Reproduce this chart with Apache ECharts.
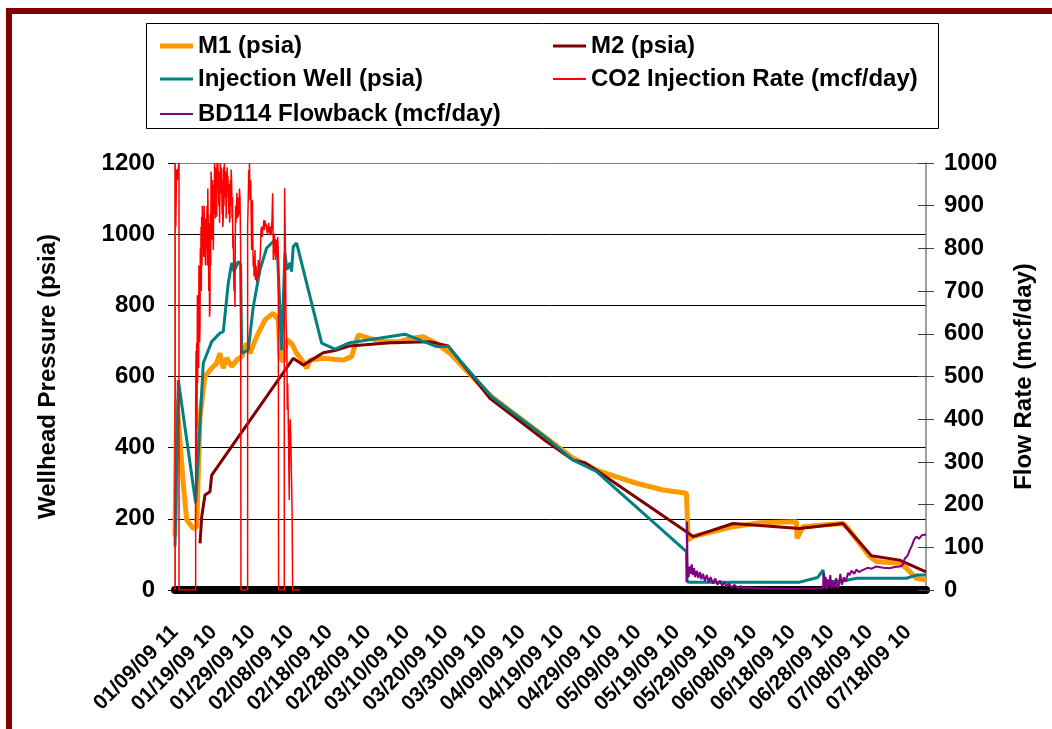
<!DOCTYPE html>
<html>
<head>
<meta charset="utf-8">
<title>Wellhead Pressure and Flow Rate</title>
<script src="https://cdn.jsdelivr.net/npm/echarts@6/dist/echarts.min.js"></script>
<style>
  html, body { margin: 0; padding: 0; background: #ffffff; }
  #chart { width: 1052px; height: 729px; }
</style>
</head>
<body>
<div id="chart"></div>
<script>
// Tick labels along the date axis (every 10 days from 01/09/09 11:00)
const xLabels = [
  '01/09/09 11', '01/19/09 10', '01/29/09 10', '02/08/09 10', '02/18/09 10',
  '02/28/09 10', '03/10/09 10', '03/20/09 10', '03/30/09 10', '04/09/09 10',
  '04/19/09 10', '04/29/09 10', '05/09/09 10', '05/19/09 10', '05/29/09 10',
  '06/08/09 10', '06/18/09 10', '06/28/09 10', '07/08/09 10', '07/18/09 10'
];
const dayMax = 194.6;

// [days since 01/09/09 11:00, psia]
const m1Psia = [
  [0,150],[0.44,534],[2.15,300],[3.03,197],[4.74,173],[5.62,178],[6.48,487],[7.77,600],
  [9.06,618],[10.8,637],[11.65,665],[12.51,623],[13.39,652],[14.69,628],[15.98,646],
  [17.28,656],[18.57,693],[19.43,665],[21.16,712],[23.31,759],[25.46,778],[26.75,759],
  [27.2,656],[28.05,642],[28.93,703],[30.22,693],[31.52,665],[33.23,642],[34.11,623],
  [34.97,646],[38.41,651],[43.59,646],[45.77,656],[47.48,717],[50.5,707],[53.95,698],
  [58.28,698],[60.87,707],[64.31,712],[67.78,693],[71.23,665],[82.03,543],[103.16,370],
  [109.22,337],[114.4,318],[119.58,300],[126.47,281],[132.53,272],[132.95,141],
  [134.24,150],[144.6,178],[151.51,189],[161.02,192],[161.2,145],[161.6,148],[162.73,178],
  [167.91,183],[173.09,187],[174.39,173],[180.0,94],[181.73,80],[187.77,75],[189.5,61],
  [192.1,33],[194.6,28]
];

const m2Psia = [
  [6.48,131],[6.92,206],[7.77,267],[9.06,276],[9.51,323],[30.64,651],[33.23,632],
  [38.41,667],[41.44,673],[45.32,686],[55.69,695],[66.05,698],[70.79,686],[81.59,539],
  [96.27,417],[103.16,365],[106.19,358],[109.64,333],[132.53,164],[134.24,150],
  [144.6,187],[161.87,173],[173.09,187],[180.44,96],[187.77,84],[194.6,51]
];

const injectionPsia = [
  [0,122],[0.85,590],[5.36,244],[7.33,638],[9.51,698],[11.65,722],[12.51,726],[13.8,862],
  [14.69,919],[15.3,895],[16.39,923],[17.0,915],[17.28,666],[18.98,674],[20.28,796],
  [22.01,899],[23.75,961],[25.9,984],[26.5,960],[27.64,674],[28.49,947],[29.0,900],
  [29.79,919],[30.2,895],[30.64,965],[31.52,975],[38.0,694],[41.44,677],[45.32,695],
  [59.57,719],[67.78,684],[70.79,684],[82.03,543],[95.83,431],[103.16,365],[109.22,333],
  [132.53,108],[132.69,23],[133.5,22],[161.87,22],[166.5,35],[167.91,56],[168.35,23],
  [173.09,25],[176.56,33],[189.5,33],[192.1,42],[194.6,42]
];

// [days, mcf/day]
const co2Rate = [
  [0,0],[0,1000],[0.2,850],[0.4,985],[0.6,960],[0.85,990],[1.04,1000],[1.04,0],
  [5.35,0],[5.35,420],[5.45,560],[5.55,300],[5.61,578],[5.7,380],[5.8,690],[5.87,484],
  [5.95,620],[6.04,671],[6.12,520],[6.2,760],[6.3,695],[6.4,580],[6.48,617],[6.56,800],
  [6.65,710],[6.75,850],[6.83,700],[6.91,874],[7.0,760],[7.08,900],[7.17,812],[7.25,880],
  [7.34,851],[7.45,780],[7.55,900],[7.65,820],[7.77,835],[7.9,760],[8.0,870],[8.1,800],
  [8.2,796],[8.3,900],[8.4,760],[8.5,940],[8.63,851],[8.75,700],[8.85,860],[8.95,640],
  [9.06,656],[9.15,880],[9.25,760],[9.35,980],[9.5,921],[9.6,820],[9.7,960],[9.8,850],
  [9.93,796],[10.05,950],[10.15,880],[10.25,1000],[10.36,1000],[10.45,870],[10.55,990],
  [10.65,900],[10.79,874],[10.9,1000],[11.0,940],[11.1,1000],[11.22,1000],[11.35,900],
  [11.45,980],[11.55,860],[11.66,937],[11.75,1000],[11.85,930],[11.95,990],[12.09,983],
  [12.2,880],[12.3,960],[12.4,850],[12.52,874],[12.6,990],[12.7,900],[12.8,1000],
  [12.95,1000],[13.05,920],[13.15,980],[13.25,870],[13.38,921],[13.5,990],[13.6,930],
  [13.7,970],[13.81,968],[13.95,880],[14.05,950],[14.15,860],[14.25,874],[14.35,960],
  [14.45,900],[14.55,985],[14.68,952],[14.8,870],[14.9,920],[15.0,800],[15.11,835],
  [15.2,760],[15.3,700],[15.42,740],[15.54,663],[15.62,820],[15.7,900],[15.8,860],
  [15.97,913],[16.05,930],[16.15,870],[16.25,900],[16.4,874],[16.5,920],[16.6,880],
  [16.7,940],[16.84,921],[16.92,860],[17.01,796],[17.09,0],
  [18.82,0],[18.82,850],[18.99,921],[19.1,983],[19.2,940],[19.3,1000],[19.43,913],
  [19.55,960],[19.65,952],[19.75,870],[19.86,796],[19.95,880],[20.05,913],[20.15,820],
  [20.29,757],[20.4,780],[20.5,734],[20.6,760],[20.72,796],[20.85,726],[21.0,760],
  [21.15,722],[21.3,741],[21.45,734],[21.58,773],[21.7,740],[21.85,734],[22.02,734],
  [22.15,800],[22.3,843],[22.45,851],[22.6,827],[22.75,851],[22.88,843],[23.0,866],
  [23.15,843],[23.31,866],[23.45,851],[23.6,858],[23.74,851],[23.9,835],[24.05,851],
  [24.17,839],[24.3,860],[24.45,831],[24.61,839],[24.75,851],[24.9,831],[25.04,851],
  [25.15,870],[25.3,929],[25.38,880],[25.47,773],[25.6,796],[25.75,835],[25.9,835],
  [26.05,773],[26.2,820],[26.33,820],[26.45,781],[26.6,827],[26.76,796],[26.85,0],
  [28.32,0],[28.32,700],[28.4,941],[28.49,941],[28.6,796],[28.75,640],[28.92,640],
  [29.0,560],[29.09,422],[29.2,484],[29.3,429],[29.35,429],[29.45,328],[29.55,250],
  [29.61,211],[29.7,367],[29.85,400],[29.96,367],[30.05,328],[30.15,280],[30.22,250],
  [30.35,172],[30.48,0],[32.37,0]
];

const bd114Flowback = [
  [132.6,20],[132.69,160],[132.8,47],[133.1,30],[133.3,55],[133.6,38],[133.9,60],
  [134.2,35],[134.5,51],[134.8,30],[135.2,45],[135.6,28],[136.0,42],[136.4,25],
  [136.8,38],[137.3,22],[137.8,35],[138.3,18],[138.8,30],[139.4,15],[140.0,27],
  [140.6,12],[141.2,22],[141.8,10],[142.4,18],[142.9,8],[143.5,15],[144.2,6],[145.0,12],
  [145.8,5],[146.6,9],[147.2,4],[148.5,6],[151.5,4],[160,3],[167.9,4],[168.1,40],
  [168.3,5],[168.6,30],[168.9,2],[169.2,25],[169.5,8],[169.8,35],[170.1,3],[170.5,20],
  [170.9,6],[171.3,28],[171.7,4],[172.1,15],[172.4,38],[172.8,12],[173.3,30],[173.8,20],
  [174.4,40],[174.8,35],[175.3,45],[176.0,38],[176.6,48],[177.2,42],[178.3,47],
  [179.5,52],[180.5,50],[181.7,55],[183.5,52],[185.2,51],[186.5,54],[187.8,55],
  [188.5,58],[189.1,74],[189.8,80],[190.4,94],[191.0,105],[191.5,118],[192.1,125],
  [192.8,120],[193.5,128],[194.0,124],[194.6,130]
];

const FONT = "'Liberation Sans', Arial, sans-serif";
const boldText = (size) => ({ fontFamily: FONT, fontWeight: 'bold', fontSize: size, color: '#000' });

// Series styling: [name, data, colour, line width, y axis]
const seriesDefs = [
  ['M1 (psia)', m1Psia, '#FF9900', 5, 0],
  ['M2 (psia)', m2Psia, '#800000', 3, 0],
  ['Injection Well (psia)', injectionPsia, '#008080', 3, 0],
  ['CO2 Injection Rate (mcf/day)', co2Rate, '#FF0000', 1.5, 1],
  ['BD114 Flowback (mcf/day)', bd114Flowback, '#800080', 2, 1]
];

// Legend slots: two columns, three rows
const legendSlots = [
  { left: 160, mid: 45 },
  { left: 553, mid: 45 },
  { left: 160, mid: 78 },
  { left: 553, mid: 78 },
  { left: 160, mid: 113 }
];

const series = seriesDefs.map(([name, data, color, width, axis]) => ({
  name: name,
  type: 'line',
  data: data,
  yAxisIndex: axis,
  showSymbol: false,
  symbol: 'none',
  lineStyle: { color: color, width: width },
  itemStyle: { color: color },
  animation: false
}));

const legends = seriesDefs.map(([name, , color, width], i) => ({
  data: [{ name: name, icon: 'rect', itemStyle: { color: color } }],
  left: legendSlots[i].left,
  top: legendSlots[i].mid - 12,
  padding: 0,
  itemWidth: 33,
  itemHeight: Math.max(2, Math.round(width)),
  textStyle: Object.assign(boldText(24), { lineHeight: 26 }),
  selectedMode: false
}));

const plainNumber = (v) => String(v);

const chart = echarts.init(document.getElementById('chart'), null, { renderer: 'canvas' });

chart.setOption({
  backgroundColor: '#ffffff',
  animation: false,
  grid: { left: 175, right: 126, top: 163, bottom: 139, containLabel: false },
  legend: legends,
  xAxis: {
    type: 'value',
    min: 0,
    max: dayMax,
    interval: 10,
    offset: 3,
    axisLine: { show: true, lineStyle: { color: '#000', width: 8 } },
    axisTick: { show: false },
    splitLine: { show: false },
    axisLabel: Object.assign(boldText(21), {
      rotate: 45,
      margin: 36,
      showMaxLabel: false,
      formatter: function (v) {
        const i = Math.round(v / 10);
        if (Math.abs(v - i * 10) > 0.01) return '';
        return xLabels[i] || '';
      }
    })
  },
  yAxis: [
    {
      type: 'value', position: 'left', min: 0, max: 1200, interval: 200,
      name: 'Wellhead Pressure (psia)', nameLocation: 'middle', nameGap: 115, nameRotate: 90,
      nameTextStyle: boldText(24),
      axisLine: { show: true, lineStyle: { color: '#808080', width: 1 } },
      axisTick: { show: true, length: 7, lineStyle: { color: '#000' } },
      axisLabel: Object.assign(boldText(24), { margin: 20, formatter: plainNumber }),
      splitLine: {
        show: true,
        lineStyle: { color: ['#000', '#000', '#000', '#000', '#000', '#000', '#808080'], width: 1 }
      }
    },
    {
      type: 'value', position: 'right', min: 0, max: 1000, interval: 100,
      name: 'Flow Rate (mcf/day)', nameLocation: 'middle', nameGap: 86, nameRotate: 90,
      nameTextStyle: boldText(24),
      axisLine: { show: true, lineStyle: { color: '#808080', width: 1.5 } },
      axisTick: { show: true, length: 8, lineStyle: { color: '#404040' } },
      axisLabel: Object.assign(boldText(24), { margin: 18, formatter: plainNumber }),
      splitLine: { show: false }
    },
    {
      // inner half of the crossing ticks on the flow-rate axis
      type: 'value', position: 'right', min: 0, max: 1000, interval: 100,
      axisLine: { show: false },
      axisTick: { show: true, inside: true, length: 8, lineStyle: { color: '#404040' } },
      axisLabel: { show: false },
      splitLine: { show: false }
    }
  ],
  series: series,
  graphic: [
    { type: 'rect', shape: { x: 6, y: 8, width: 1046, height: 6 }, style: { fill: '#800000' }, silent: true },
    { type: 'rect', shape: { x: 6, y: 8, width: 6, height: 721 }, style: { fill: '#800000' }, silent: true },
    { type: 'rect', shape: { x: 146.5, y: 23.5, width: 792, height: 105 },
      style: { fill: 'none', stroke: '#000', lineWidth: 1 }, silent: true }
  ]
});
</script>
</body>
</html>
